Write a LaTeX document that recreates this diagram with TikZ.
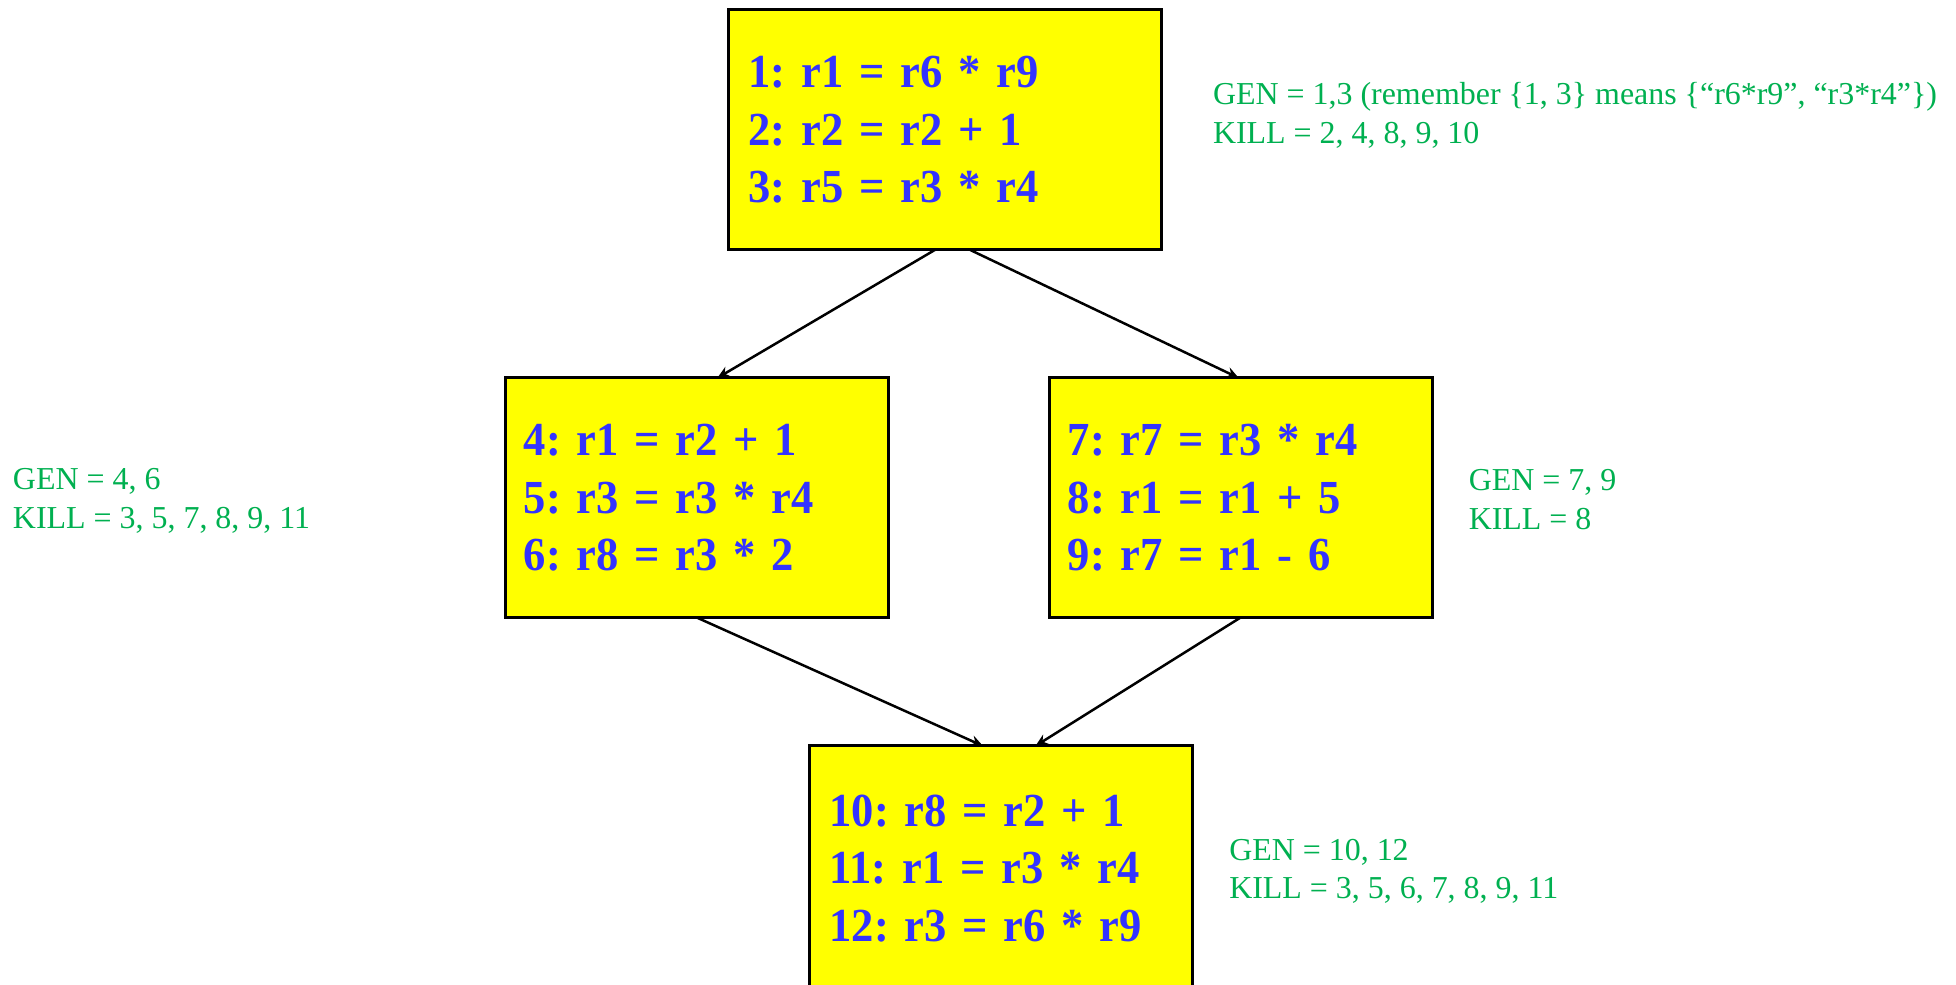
\documentclass[tikz,border=0pt]{standalone}
\usepackage{fontspec}
\setmainfont{Liberation Serif}
\newfontfamily\codefont{Liberation Serif}[FakeStretch=0.94]
\usepackage{xcolor}
\usetikzlibrary{arrows.meta}
\definecolor{custom-yellow}{RGB}{255, 255, 0}
\definecolor{custom-blue}{RGB}{51, 51, 255}
\definecolor{custom-green}{RGB}{0, 176, 80}

\begin{document}
\frenchspacing
\begin{tikzpicture}[x=0.5pt, y=-0.5pt,
    block/.style={draw=black, fill=custom-yellow, line width=1.2pt, text=custom-blue,
        font=\codefont\fontsize{19}{23}\selectfont\bfseries, align=left, anchor=north west,
        inner xsep=8pt, inner ysep=0pt, outer sep=0pt, text width=157.5pt, minimum height=96pt},
    info/.style={text=custom-green, font=\fontsize{12.8}{15.6}\selectfont, align=left,
        anchor=north west, inner sep=0pt},
    flow/.style={-{Stealth[length=5pt, width=4.4pt]}, line width=1pt}]
\useasboundingbox (0,0) rectangle (1568,789);
\clip (0,0) rectangle (1568,789);
\node[block] (b1) at (584,8) {1: r1 = r6 * r9\\2: r2 = r2 + 1\\3: r5 = r3 * r4};
\node[block, inner xsep=7.5pt, text width=138.5pt] (b2) at (405,303) {4: r1 = r2 + 1\\5: r3 = r3 * r4\\6: r8 = r3 * 2};
\node[block, inner xsep=7.5pt, text width=138.5pt] (b3) at (841,303) {7: r7 = r3 * r4\\8: r1 = r1 + 5\\9: r7 = r1 - 6};
\node[block, text width=137.5pt, minimum height=98pt] (b4) at (649,598) {10: r8 = r2 + 1\\11: r1 = r3 * r4\\12: r3 = r6 * r9};
\node[info] (g1) at (972,66) {GEN = 1,3 (remember \{1, 3\} means \{“r6*r9”, “r3*r4”\})\\KILL = 2, 4, 8, 9, 10};
\node[info] (g2) at (10,375) {GEN = 4, 6\\KILL = 3, 5, 7, 8, 9, 11};
\node[info] (g3) at (1177,376) {GEN = 7, 9\\KILL = 8};
\node[info] (g4) at (985,672) {GEN = 10, 12\\KILL = 3, 5, 6, 7, 8, 9, 11};
\draw[flow] ([xshift=-3.75pt]b1.south) -- ([xshift=8.25pt]b2.north);
\draw[flow] ([xshift=9.75pt]b1.south) -- ([xshift=-0.75pt]b3.north);
\draw[flow] (b2.south) -- ([xshift=-7.25pt]b4.north);
\draw[flow] (b3.south) -- ([xshift=13.75pt]b4.north);
\end{tikzpicture}
\end{document}
